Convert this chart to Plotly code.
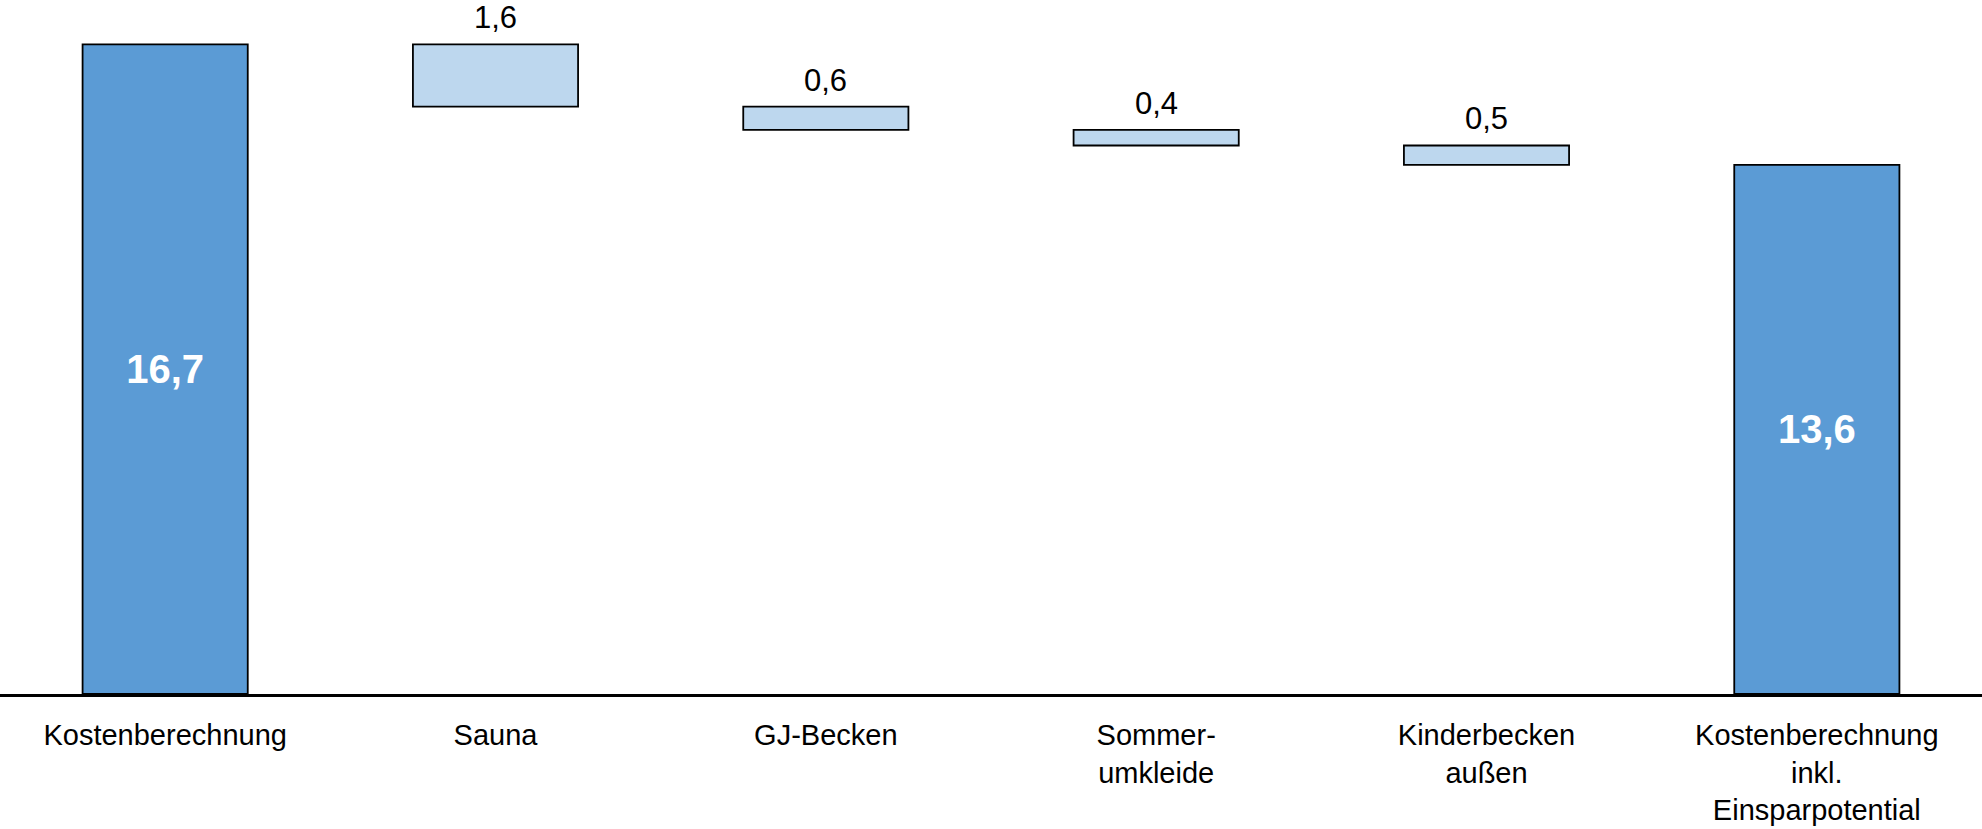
import plotly.graph_objects as go

# Waterfall of construction costs (Mio. €): start total, savings steps, end total
categories = [
    "Kostenberechnung",
    "Sauna",
    "GJ-Becken",
    "Sommer-<br>umkleide",
    "Kinderbecken<br>außen",
    "Kostenberechnung<br>inkl.<br>Einsparpotential",
]
start_total = 16.7
savings = [1.6, 0.6, 0.4, 0.5]
end_total = 13.6

total_color = "#5B9BD5"
saving_color = "#BDD7EE"
font_family = "Liberation Sans, Arial, sans-serif"


def fmt(v):
    return f"{v:.1f}".replace(".", ",")


# floating bars hang down from the running total
bases = []
running = start_total
for s in savings:
    running -= s
    bases.append(running)

fig = go.Figure()

fig.add_trace(go.Bar(
    x=[categories[0], categories[-1]],
    y=[start_total, end_total],
    width=0.5,
    marker=dict(color=total_color, line=dict(color="black", width=1.8)),
    text=[fmt(start_total), fmt(end_total)],
    textposition="inside",
    insidetextanchor="middle",
    textfont=dict(family=font_family, size=40, color="white", weight="bold"),
    cliponaxis=False,
    showlegend=False,
))

fig.add_trace(go.Bar(
    x=categories[1:-1],
    y=savings,
    base=bases,
    width=0.5,
    marker=dict(color=saving_color, line=dict(color="black", width=1.8)),
    cliponaxis=False,
    showlegend=False,
))

# value labels above each savings step
for cat, s, b in zip(categories[1:-1], savings, bases):
    fig.add_annotation(
        x=cat,
        y=b + s,
        text=fmt(s),
        showarrow=False,
        yanchor="bottom",
        yshift=7,
        font=dict(family=font_family, size=31, color="black"),
    )

fig.update_layout(
    width=1982,
    height=829,
    margin=dict(l=0, r=0, t=0, b=135),
    barmode="overlay",
    plot_bgcolor="white",
    paper_bgcolor="white",
    font=dict(family=font_family, color="black"),
    xaxis=dict(
        categoryorder="array",
        categoryarray=categories,
        showline=True,
        linecolor="black",
        linewidth=3,
        showgrid=False,
        ticks="",
        ticklabelstandoff=13,
        tickfont=dict(family=font_family, size=29, color="black"),
        zeroline=False,
        automargin=False,
    ),
    yaxis=dict(
        range=[0, 17.84],
        visible=False,
        showgrid=False,
        zeroline=False,
        automargin=False,
    ),
)

fig.write_html("out.html")
